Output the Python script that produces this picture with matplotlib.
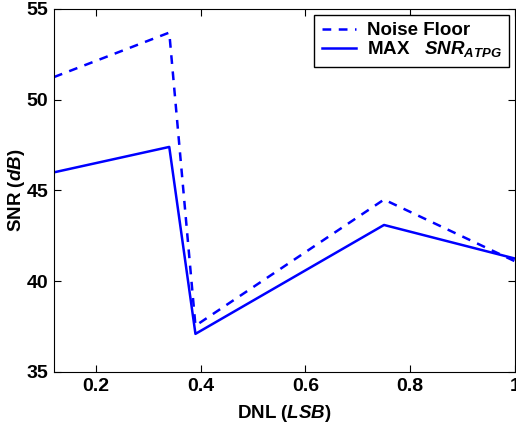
import matplotlib
matplotlib.use("Agg")
import matplotlib.pyplot as plt

# values
dnl = [0.12, 0.34, 0.39, 0.75, 1.0]
noise_floor = [51.25, 53.7, 37.55, 44.5, 41.1]
max_snr = [46.0, 47.4, 37.1, 43.1, 41.25]

plt.rcParams['font.family'] = ['Liberation Sans', 'DejaVu Sans']
plt.rcParams['font.weight'] = 'bold'
plt.rcParams['mathtext.fontset'] = 'custom'
plt.rcParams['mathtext.it'] = 'Liberation Sans:italic:bold'
plt.rcParams['mathtext.rm'] = 'Liberation Sans:bold'

fig = plt.figure(figsize=(5.16, 4.26), dpi=100)
ax = fig.add_axes([0.1047, 0.1268, 0.8933, 0.8521])

ax.plot(dnl, noise_floor, color='blue', linestyle=(0, (3.5, 3)), linewidth=1.8, label='Noise Floor')
ax.plot(dnl, max_snr, color='blue', linestyle='-', linewidth=1.8, label=r'MAX   $\mathit{SNR}_{\mathit{ATPG}}$')

ax.set_xlim(0.12, 1.0)
ax.set_ylim(35, 55)
ax.set_xticks([0.2, 0.4, 0.6, 0.8, 1.0])
ax.set_xticklabels(['0.2', '0.4', '0.6', '0.8', '1'])
ax.set_yticks([35, 40, 45, 50, 55])
ax.tick_params(direction='in', top=True, right=True, labelsize=14, length=5, pad=4)
for lab in ax.get_xticklabels() + ax.get_yticklabels():
    lab.set_fontweight('bold')

ax.set_xlabel(r'DNL $\mathit{(LSB)}$', fontsize=13.5, fontweight='bold', labelpad=6)
ax.set_ylabel(r'SNR $\mathit{(dB)}$', fontsize=13.5, fontweight='bold', labelpad=0)

leg = ax.legend(loc='upper right', fontsize=13.5, frameon=True, fancybox=False,
                edgecolor='black', framealpha=1, borderaxespad=0.3,
                handlelength=1.8, handletextpad=0.6, labelspacing=0.0, borderpad=0.4)
leg.get_frame().set_linewidth(1.0)
for t in leg.get_texts():
    t.set_fontweight('bold')

fig.savefig('out.png', dpi=100)
